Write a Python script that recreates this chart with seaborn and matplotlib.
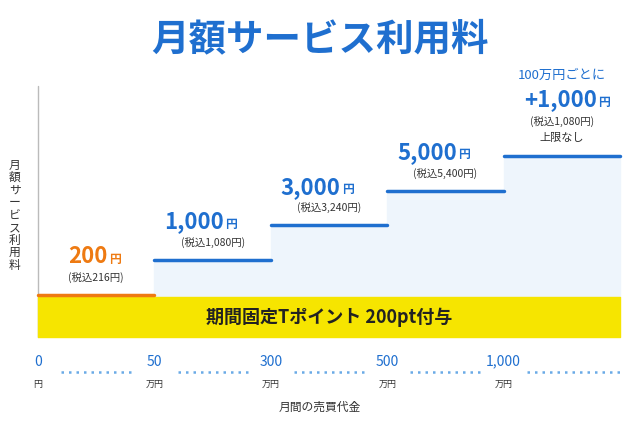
import matplotlib
matplotlib.use("Agg")
import matplotlib.pyplot as plt
import seaborn as sns
import pandas as pd

sns.set_theme(style="white", font="Noto Sans CJK JP")

prices = ["200", "1,000", "3,000", "5,000", "+1,000"]
tax_labels = ["(税込216円)", "(税込1,080円)", "(税込3,240円)", "(税込5,400円)", "(税込1,080円)"]
levels = [0, 1, 2, 3, 4]
tick_nums = ["0", "50", "300", "500", "1,000"]
tick_units = ["円", "万円", "万円", "万円", "万円"]

BLUE = "#1f6fcf"
ORANGE = "#ee7a12"

fig = plt.figure(figsize=(6.4, 4.22), dpi=100)
ax = fig.add_axes([0, 0, 1, 1])
ax.set_xlim(-38 / 116.4, 602 / 116.4)
ax.set_ylim(-3.63, 8.46)
ax.axis("off")

df = pd.DataFrame({"x0": range(5), "x1": [i + 1 for i in range(5)], "lvl": levels})
for _, r in df.iterrows():
    if r.lvl > 0:
        ax.fill_between([r.x0, r.x1], -0.05, r.lvl, color="#eef5fc", zorder=0)
for _, r in df.iterrows():
    seg = pd.DataFrame({"x": [r.x0, r.x1], "y": [r.lvl, r.lvl]})
    sns.lineplot(data=seg, x="x", y="y", ax=ax, color=ORANGE if r.lvl == 0 else BLUE,
                 lw=2.5, zorder=3)
ax.plot([0, 0], [-1.2, 6.0], color="#bbbbbb", lw=1)
ax.fill_between([0, 5], -1.2, -0.06, color="#f6e500", zorder=2)
ax.text(2.5, -0.63, "期間固定Tポイント 200pt付与", ha="center", va="center",
        fontsize=13, fontweight="bold", color="#222222", zorder=4)

for i, (p, t, l) in enumerate(zip(prices[:4], tax_labels[:4], levels[:4])):
    c = ORANGE if i == 0 else BLUE
    cx = i + 0.5
    ax.text(cx + 0.1, l + 1.1, p, ha="right", va="center", fontsize=16, fontweight="bold", color=c)
    ax.text(cx + 0.11, l + 1.03, "円", ha="left", va="center", fontsize=8.5, fontweight="bold", color=c)
    ax.text(cx, l + 0.5, t, ha="center", va="center", fontsize=7.5, color="#333333")
cx = 4.5
ax.text(cx, 6.3, "100万円ごとに", ha="center", va="center", fontsize=9.5, color=BLUE)
ax.text(cx + 0.3, 5.6, prices[4], ha="right", va="center", fontsize=16, fontweight="bold", color=BLUE)
ax.text(cx + 0.31, 5.53, "円", ha="left", va="center", fontsize=8.5, fontweight="bold", color=BLUE)
ax.text(cx, 4.98, tax_labels[4], ha="center", va="center", fontsize=7.5, color="#333333")
ax.text(cx, 4.52, "上限なし", ha="center", va="center", fontsize=8, color="#333333")

ax.text(2.42, 7.35, "月額サービス利用料", ha="center", va="center", fontsize=27,
        fontweight="bold", color=BLUE)
ax.text(-0.2, 2.3, "\n".join("月額サービス利用料"), ha="center", va="center",
        fontsize=8.5, color="#333333", linespacing=0.95)

for i, (n, u) in enumerate(zip(tick_nums, tick_units)):
    ax.text(i, -1.9, n, ha="center", va="center", fontsize=10, color=BLUE)
    ax.text(i, -2.55, u, ha="center", va="center", fontsize=6.5, color="#333333")
for i in range(4):
    ax.plot([i + 0.2, i + 0.8], [-2.2, -2.2], ls=(0, (1, 2)), color="#6aaae6", lw=1.8)
ax.plot([4.2, 5.0], [-2.2, -2.2], ls=(0, (1, 2)), color="#6aaae6", lw=1.8)
ax.text(2.42, -3.2, "月間の売買代金", ha="center", va="center", fontsize=8.5, color="#333333")

fig.savefig("out.png", dpi=100)
